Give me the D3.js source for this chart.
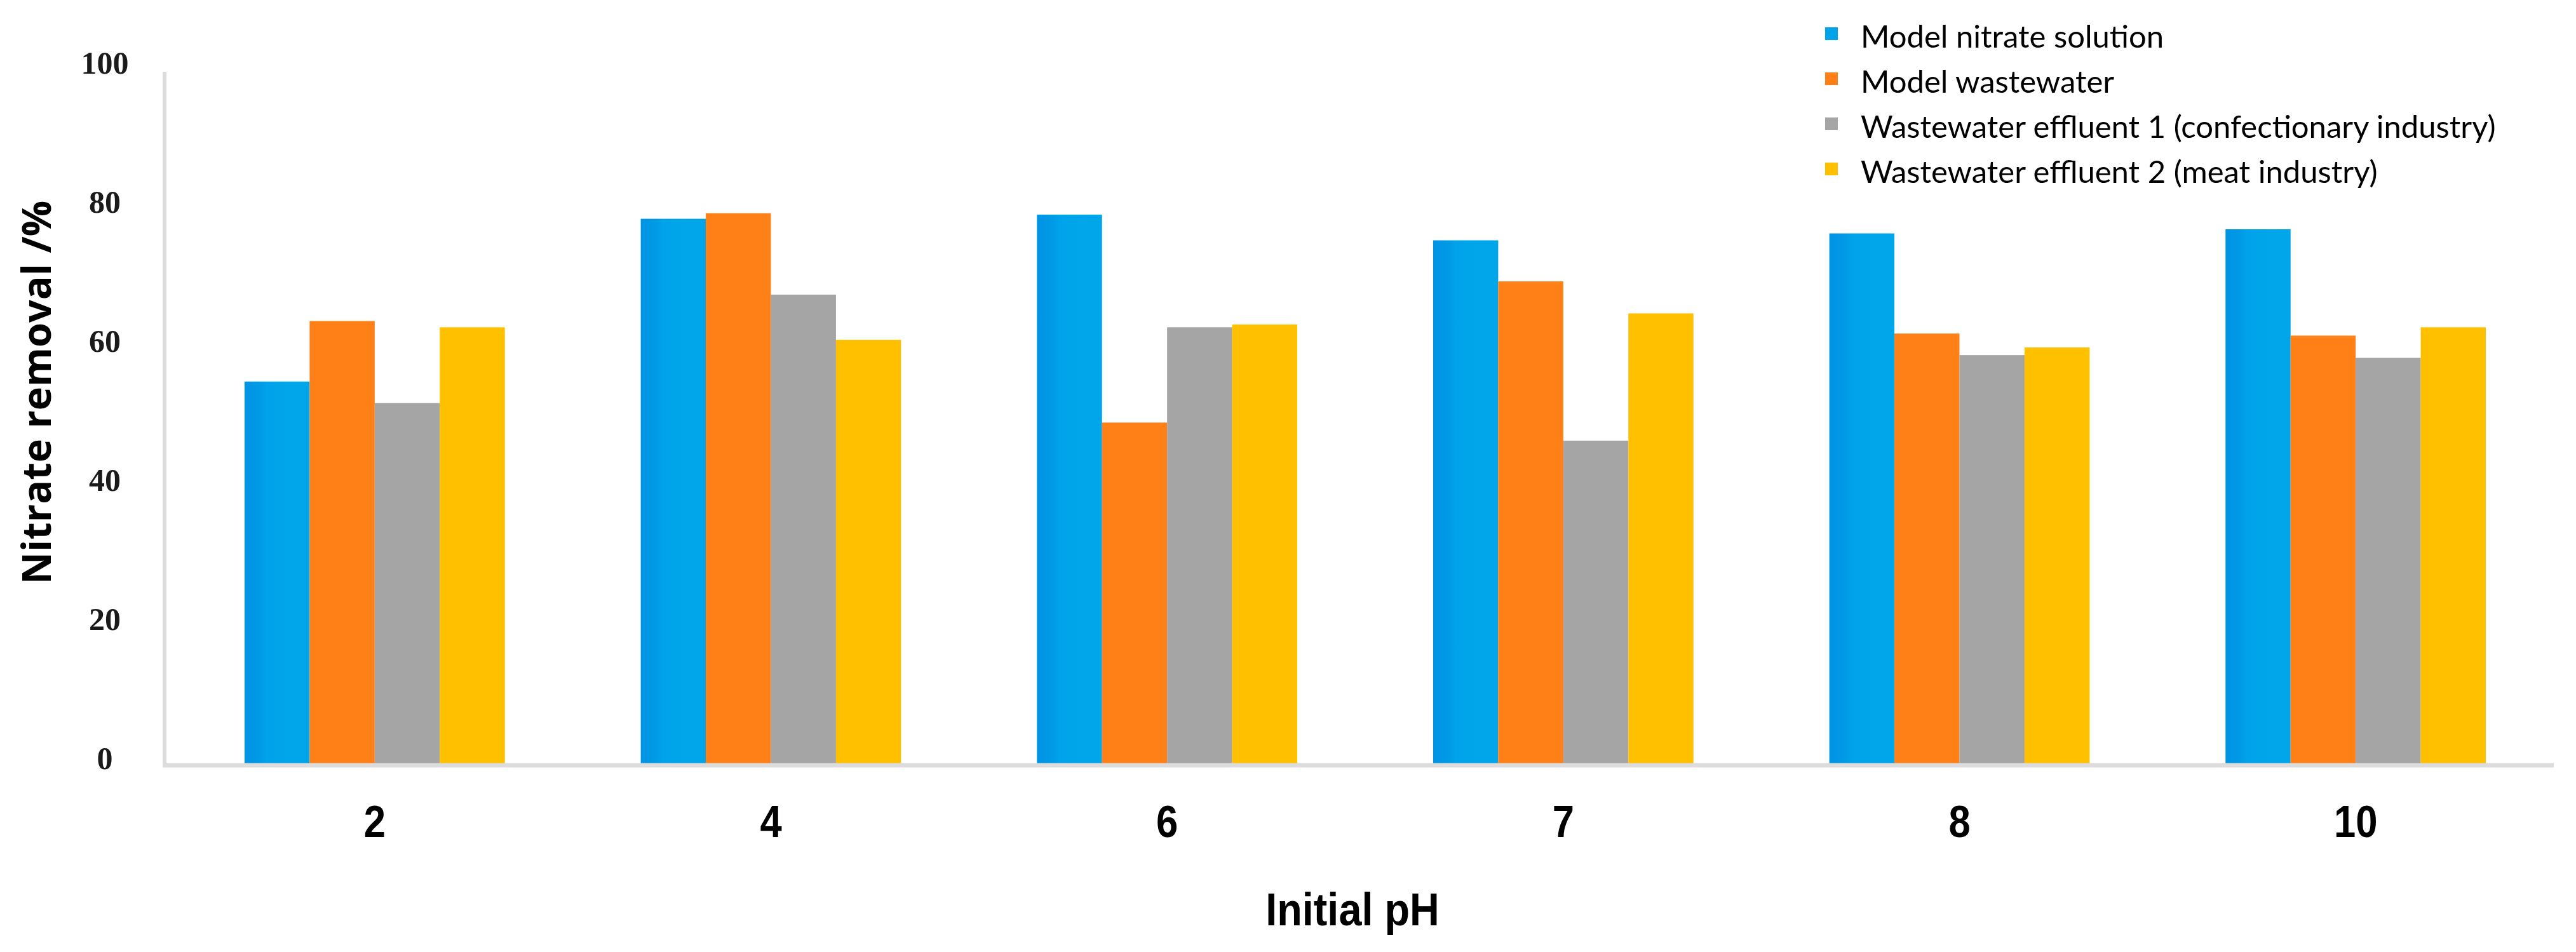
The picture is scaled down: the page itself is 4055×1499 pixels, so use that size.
<!DOCTYPE html>
<html>
<head>
<meta charset="utf-8">
<script src="https://cdn.jsdelivr.net/npm/d3@7"></script>
<style>
  html, body { margin: 0; padding: 0; background: #ffffff; }
  svg { display: block; }
</style>
</head>
<body>
<svg id="chart" width="4055" height="1499"></svg>
<script>
// ---- data ----
const categories = ["2", "4", "6", "7", "8", "10"];
const seriesNames = [
  "Model nitrate solution",
  "Model wastewater",
  "Wastewater effluent 1 (confectionary industry)",
  "Wastewater effluent 2 (meat industry)"
];
const modelNitrate   = [55.0, 78.4, 79.0, 75.3, 76.3, 76.9];
const modelWaste     = [63.7, 79.2, 49.1, 69.4, 61.9, 61.6];
const effluent1      = [51.9, 67.5, 62.8, 46.5, 58.8, 58.4];
const effluent2      = [62.8, 61.0, 63.2, 64.8, 59.9, 62.8];
const yTicks = [0, 20, 40, 60, 80, 100];
const seriesValues = [modelNitrate, modelWaste, effluent1, effluent2];
const colors = ["#00A3E9", "#FF8017", "#A5A5A5", "#FFC000"];

// ---- layout ----
const svg = d3.select("#chart");
const axisX = 259, baseY = 1203, topY = 108, rightX = 4020;

const y = d3.scaleLinear().domain([0, 100]).range([baseY, topY]);
const x0 = d3.scaleBand().domain(categories).range([278, rightX])
  .paddingInner(0.343).paddingOuter(0.1715);
const x1 = d3.scaleBand().domain(seriesNames).range([0, x0.bandwidth()]).padding(0);

// gradient for the blue bars (darker strip on the left)
const defs = svg.append("defs");
const g = defs.append("linearGradient").attr("id", "blueGrad").attr("x1", "0").attr("x2", "1").attr("y1", "0").attr("y2", "0");
g.append("stop").attr("offset", "0").attr("stop-color", "#0094E4");
g.append("stop").attr("offset", "0.22").attr("stop-color", "#0099E6");
g.append("stop").attr("offset", "0.35").attr("stop-color", "#00A3E9");
g.append("stop").attr("offset", "1").attr("stop-color", "#00A6EA");

// bars
const rows = categories.map((c, i) => ({ cat: c, vals: seriesNames.map((s, j) => ({ s, j, v: seriesValues[j][i] })) }));
const grp = svg.append("g").selectAll("g").data(rows).join("g")
  .attr("transform", d => `translate(${x0(d.cat)},0)`);
grp.selectAll("rect").data(d => d.vals).join("rect")
  .attr("x", d => x1(d.s))
  .attr("width", x1.bandwidth())
  .attr("y", d => y(d.v))
  .attr("height", d => y(0) - y(d.v))
  .attr("fill", d => d.j === 0 ? "url(#blueGrad)" : colors[d.j]);

// y axis (line + labels)
const yAxis = d3.axisLeft(y).tickValues(yTicks).tickSize(0).tickPadding(0);
const ya = svg.append("g").attr("transform", `translate(${axisX},0)`).call(yAxis);
ya.select(".domain").remove();
ya.selectAll("text")
  .attr("x", 165 - axisX)
  .attr("dy", "0.34em")
  .attr("transform", "translate(0,-10)")
  .attr("text-anchor", "middle")
  .attr("font-family", "'Liberation Serif', serif")
  .attr("font-weight", "bold")
  .attr("font-size", 50)
  .attr("fill", "#1a1a1a");
svg.append("line")
  .attr("x1", axisX).attr("x2", axisX)
  .attr("y1", y(100) + 5).attr("y2", baseY + 3)
  .attr("stroke", "#DCDCDC").attr("stroke-width", 6);

// x axis
const xAxis = d3.axisBottom(x0).tickSize(0).tickPadding(0);
const xa = svg.append("g").attr("transform", `translate(0,${baseY})`).call(xAxis);
xa.select(".domain").remove();
xa.selectAll("text")
  .attr("y", 115)
  .attr("dy", 0)
  .attr("transform", "scale(0.88,1)")
  .attr("font-family", "'Liberation Sans', sans-serif")
  .attr("font-weight", "bold")
  .attr("font-size", 70)
  .attr("fill", "#000");
xa.selectAll(".tick").each(function () {
  const t = d3.select(this).select("text");
  t.attr("transform", null).attr("textLength", null);
});
xa.selectAll(".tick text").attr("transform", "scale(0.88,1)");
svg.append("line")
  .attr("x1", axisX - 3).attr("x2", rightX)
  .attr("y1", baseY + 2).attr("y2", baseY + 2)
  .attr("stroke", "#DCDCDC").attr("stroke-width", 7);

// axis titles
svg.append("text")
  .attr("transform", "translate(2129,1457) scale(0.9,1)")
  .attr("text-anchor", "middle")
  .attr("font-family", "'Liberation Sans', sans-serif")
  .attr("font-weight", "bold")
  .attr("font-size", 72)
  .attr("fill", "#000")
  .text("Initial pH");

svg.append("text")
  .attr("transform", "translate(80,618) rotate(-90)")
  .attr("text-anchor", "middle")
  .attr("font-family", "'Open Sans', sans-serif")
  .attr("font-weight", "bold")
  .attr("font-size", 63)
  .attr("fill", "#000")
  .text("Nitrate removal /%");

// legend
const leg = svg.append("g").selectAll("g").data(seriesNames).join("g")
  .attr("transform", (d, i) => `translate(2929,${75 + i * 71})`);
leg.append("rect")
  .attr("x", -56).attr("y", -32).attr("width", 20).attr("height", 20)
  .attr("fill", (d, i) => colors[i]);
leg.append("text")
  .attr("x", 0).attr("y", 0)
  .attr("font-family", "Lato, 'Open Sans', sans-serif")
  .attr("font-size", 49)
  .attr("fill", "#000")
  .text(d => d);
</script>
</body>
</html>
